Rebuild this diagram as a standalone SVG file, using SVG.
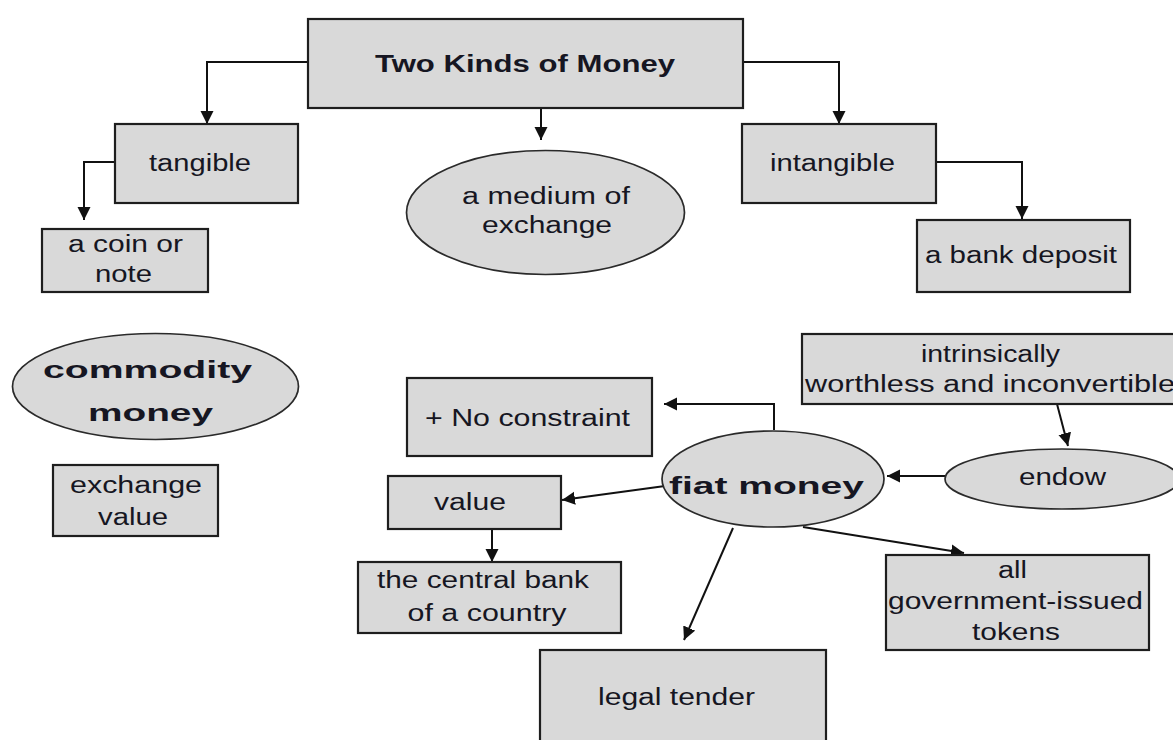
<svg xmlns="http://www.w3.org/2000/svg" width="1173" height="740" viewBox="0 0 1173 740">
<style>
.bx{fill:#d9d9d9;stroke:#1e1e1e;stroke-width:2.2}
.el{fill:#d9d9d9;stroke:#2a2a2a;stroke-width:1.7}
.t{font-family:"Liberation Sans",Arial,sans-serif;font-size:23px;fill:#161622;text-anchor:middle}
.b{font-weight:bold}
.c{fill:none;stroke:#111;stroke-width:2}
</style>
<defs>
<marker id="ah" markerUnits="userSpaceOnUse" markerWidth="14" markerHeight="14" refX="13" refY="7" orient="auto">
<path d="M0,0.5 L13,7 L0,13.5 z" fill="#111"/>
</marker>
</defs>
<rect width="1173" height="740" fill="#ffffff"/>
<g id="connectors">
<path class="c" d="M308,62 H207 V124" marker-end="url(#ah)"/>
<path class="c" d="M541,108 V140" marker-end="url(#ah)"/>
<path class="c" d="M743,62 H839 V124" marker-end="url(#ah)"/>
<path class="c" d="M115,162 H84 V220" marker-end="url(#ah)"/>
<path class="c" d="M936,162 H1022 V219" marker-end="url(#ah)"/>
<path class="c" d="M774,430 V404 H664" marker-end="url(#ah)"/>
<path class="c" d="M945,476 H887" marker-end="url(#ah)"/>
<path class="c" d="M1057,404 L1068,446" marker-end="url(#ah)"/>
<path class="c" d="M665,486 L562,500" marker-end="url(#ah)"/>
<path class="c" d="M492,529 V562" marker-end="url(#ah)"/>
<path class="c" d="M733,528 L684,640" marker-end="url(#ah)"/>
<path class="c" d="M803,527 L964,553" marker-end="url(#ah)"/>
</g>
<g id="title">
<rect class="bx" x="308" y="19" width="435" height="89"/>
<text class="t b" x="525" y="72" font-size="25" textLength="300" lengthAdjust="spacingAndGlyphs">Two Kinds of Money</text>
</g>
<g id="tangible">
<rect class="bx" x="115" y="124" width="183" height="79"/>
<text class="t" x="200" y="171" textLength="102" lengthAdjust="spacingAndGlyphs">tangible</text>
</g>
<g id="coin">
<rect class="bx" x="42" y="229" width="166" height="63"/>
<text class="t" x="125.5" y="252" textLength="115" lengthAdjust="spacingAndGlyphs">a coin or</text>
<text class="t" x="123.5" y="282" textLength="57" lengthAdjust="spacingAndGlyphs">note</text>
</g>
<g id="medium">
<ellipse class="el" cx="545.5" cy="212.5" rx="139" ry="62"/>
<text class="t" x="546" y="204" textLength="168" lengthAdjust="spacingAndGlyphs">a medium of</text>
<text class="t" x="547" y="233" textLength="130" lengthAdjust="spacingAndGlyphs">exchange</text>
</g>
<g id="intangible">
<rect class="bx" x="742" y="124" width="194" height="79"/>
<text class="t" x="832.5" y="171" textLength="125" lengthAdjust="spacingAndGlyphs">intangible</text>
</g>
<g id="bank">
<rect class="bx" x="917" y="220" width="213" height="72"/>
<text class="t" x="1021" y="263" textLength="192" lengthAdjust="spacingAndGlyphs">a bank deposit</text>
</g>
<g id="commodity">
<ellipse class="el" cx="155.5" cy="386.5" rx="143" ry="53"/>
<text class="t b" x="147.5" y="378" font-size="32" textLength="209" lengthAdjust="spacingAndGlyphs">commodity</text>
<text class="t b" x="150.5" y="421" font-size="32" textLength="125" lengthAdjust="spacingAndGlyphs">money</text>
</g>
<g id="exchange-value">
<rect class="bx" x="53" y="465" width="165" height="71"/>
<text class="t" x="136" y="493" textLength="132" lengthAdjust="spacingAndGlyphs">exchange</text>
<text class="t" x="133" y="525" textLength="70" lengthAdjust="spacingAndGlyphs">value</text>
</g>
<g id="no-constraint">
<rect class="bx" x="407" y="378" width="245" height="78"/>
<text class="t" x="527.5" y="426" textLength="205" lengthAdjust="spacingAndGlyphs">+ No constraint</text>
</g>
<g id="value">
<rect class="bx" x="388" y="476" width="173" height="53"/>
<text class="t" x="470" y="510" textLength="72" lengthAdjust="spacingAndGlyphs">value</text>
</g>
<g id="central-bank">
<rect class="bx" x="358" y="562" width="263" height="71"/>
<text class="t" x="483" y="588" textLength="212" lengthAdjust="spacingAndGlyphs">the central bank</text>
<text class="t" x="487" y="621" textLength="159" lengthAdjust="spacingAndGlyphs">of a country</text>
</g>
<g id="legal-tender">
<rect class="bx" x="540" y="650" width="286" height="100"/>
<text class="t" x="676.5" y="705" textLength="157" lengthAdjust="spacingAndGlyphs">legal tender</text>
</g>
<g id="fiat">
<ellipse class="el" cx="773" cy="479" rx="111" ry="48"/>
<text class="t b" x="766.5" y="494" font-size="36" textLength="195" lengthAdjust="spacingAndGlyphs">fiat money</text>
</g>
<g id="intrinsically">
<rect class="bx" x="802" y="334" width="376" height="70"/>
<text class="t" x="990.5" y="362" textLength="139" lengthAdjust="spacingAndGlyphs">intrinsically</text>
<text class="t" x="990" y="392" textLength="370" lengthAdjust="spacingAndGlyphs">worthless and inconvertible</text>
</g>
<g id="endow">
<ellipse class="el" cx="1062" cy="479" rx="117" ry="30"/>
<text class="t" x="1062.5" y="485" textLength="87" lengthAdjust="spacingAndGlyphs">endow</text>
</g>
<g id="tokens">
<rect class="bx" x="886" y="555" width="263" height="95"/>
<text class="t" x="1012.5" y="578" textLength="29" lengthAdjust="spacingAndGlyphs">all</text>
<text class="t" x="1015.5" y="609" textLength="255" lengthAdjust="spacingAndGlyphs">government-issued</text>
<text class="t" x="1016" y="640" textLength="88" lengthAdjust="spacingAndGlyphs">tokens</text>
</g>
</svg>
